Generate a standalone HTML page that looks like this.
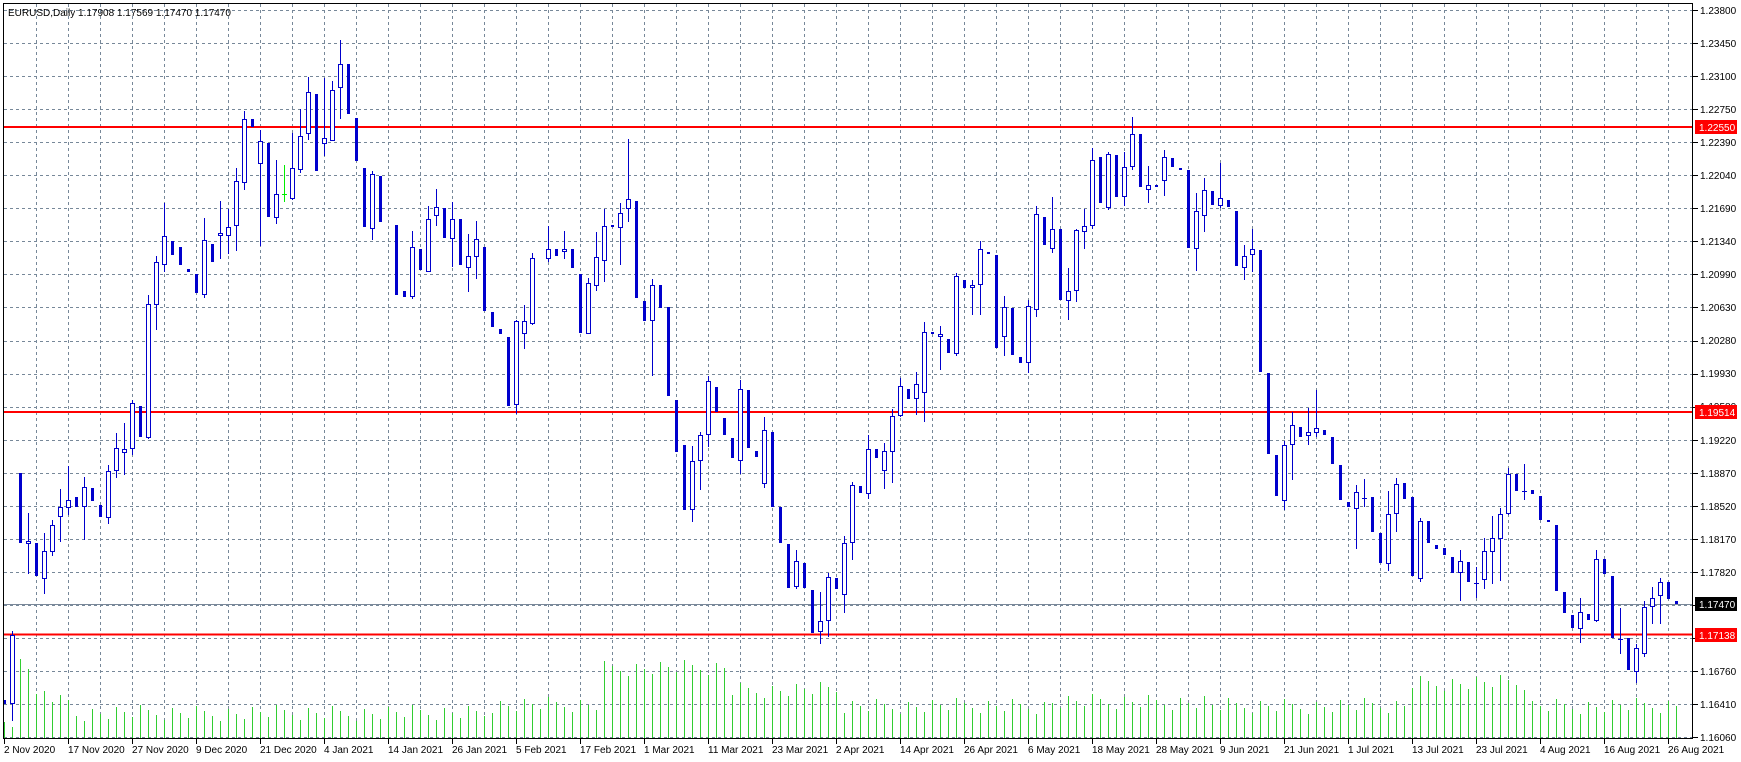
<!DOCTYPE html>
<html><head><meta charset="utf-8">
<style>
html,body{margin:0;padding:0;background:#fff;}
svg{display:block;}
text{font-family:"Liberation Sans","DejaVu Sans",sans-serif;font-size:10px;}
</style></head>
<body>
<svg id="c" width="1741" height="762" xmlns="http://www.w3.org/2000/svg">
<rect x="0" y="0" width="1741" height="762" fill="#fff"/>
<g id="grid"></g>
<g id="vol"></g>
<line x1="3" y1="604.5" x2="1693" y2="604.5" stroke="#7a8899" stroke-width="1"/>
<line x1="3" y1="127" x2="1693" y2="127" stroke="#ff0000" stroke-width="2"/>
<line x1="3" y1="412" x2="1693" y2="412" stroke="#ff0000" stroke-width="2"/>
<line x1="3" y1="634.5" x2="1693" y2="634.5" stroke="#ff0000" stroke-width="2"/>
<g id="candles"></g>
<rect x="3.5" y="3.5" width="1689" height="735" fill="none" stroke="#000" stroke-width="1"/>
<g id="ticks"></g>
<text x="8" y="16" fill="#000">EURUSD,Daily  1.17908 1.17569 1.17470 1.17470</text>
<g fill="#000">
<text x="1700" y="14">1.23800</text>
<text x="1700" y="47">1.23450</text>
<text x="1700" y="80">1.23100</text>
<text x="1700" y="113">1.22750</text>
<text x="1700" y="146">1.22390</text>
<text x="1700" y="179">1.22040</text>
<text x="1700" y="212">1.21690</text>
<text x="1700" y="245">1.21340</text>
<text x="1700" y="278">1.20990</text>
<text x="1700" y="311">1.20630</text>
<text x="1700" y="344">1.20280</text>
<text x="1700" y="377">1.19930</text>
<text x="1700" y="410">1.19580</text>
<text x="1700" y="444">1.19220</text>
<text x="1700" y="477">1.18870</text>
<text x="1700" y="510">1.18520</text>
<text x="1700" y="543">1.18170</text>
<text x="1700" y="576">1.17820</text>
<text x="1700" y="675">1.16760</text>
<text x="1700" y="708">1.16410</text>
<text x="1700" y="741">1.16060</text>
</g>
<rect x="1695" y="120" width="42" height="14" fill="#ff0000"/>
<text x="1699" y="131" fill="#fff">1.22550</text>
<rect x="1695" y="405" width="42" height="14" fill="#ff0000"/>
<text x="1699" y="416" fill="#fff">1.19514</text>
<rect x="1695" y="597" width="42" height="14" fill="#000"/>
<text x="1699" y="608" fill="#fff">1.17470</text>
<rect x="1695" y="628" width="42" height="14" fill="#ff0000"/>
<text x="1699" y="639" fill="#fff">1.17138</text>
<g fill="#000">
<text x="4" y="753">2 Nov 2020</text>
<text x="68" y="753">17 Nov 2020</text>
<text x="132" y="753">27 Nov 2020</text>
<text x="196" y="753">9 Dec 2020</text>
<text x="260" y="753">21 Dec 2020</text>
<text x="324" y="753">4 Jan 2021</text>
<text x="388" y="753">14 Jan 2021</text>
<text x="452" y="753">26 Jan 2021</text>
<text x="516" y="753">5 Feb 2021</text>
<text x="580" y="753">17 Feb 2021</text>
<text x="644" y="753">1 Mar 2021</text>
<text x="708" y="753">11 Mar 2021</text>
<text x="772" y="753">23 Mar 2021</text>
<text x="836" y="753">2 Apr 2021</text>
<text x="900" y="753">14 Apr 2021</text>
<text x="964" y="753">26 Apr 2021</text>
<text x="1028" y="753">6 May 2021</text>
<text x="1092" y="753">18 May 2021</text>
<text x="1156" y="753">28 May 2021</text>
<text x="1220" y="753">9 Jun 2021</text>
<text x="1284" y="753">21 Jun 2021</text>
<text x="1348" y="753">1 Jul 2021</text>
<text x="1412" y="753">13 Jul 2021</text>
<text x="1476" y="753">23 Jul 2021</text>
<text x="1540" y="753">4 Aug 2021</text>
<text x="1604" y="753">16 Aug 2021</text>
<text x="1668" y="753">26 Aug 2021</text>
</g>
</svg>
<script>
(function(){
var NS="http://www.w3.org/2000/svg";
function el(p,t,a){var e=document.createElementNS(NS,t);for(var k in a)e.setAttribute(k,a[k]);p.appendChild(e);return e;}
var g=document.getElementById("grid"),tk=document.getElementById("ticks");
for(var k=0;k<=22;k++){var y=Math.round(10+33.05*k)+0.5;
 el(g,"line",{x1:4,y1:y,x2:1693,y2:y,stroke:"#778899","stroke-dasharray":"3,3","stroke-width":1});
 el(tk,"line",{x1:1693,y1:y,x2:1698,y2:y,stroke:"#000"});}
for(var x=36;x<1693;x+=32){el(g,"line",{x1:x+0.5,y1:4,x2:x+0.5,y2:738,stroke:"#778899","stroke-dasharray":"3,3","stroke-width":1});}
for(var x=4;x<1693;x+=64){el(tk,"line",{x1:x+0.5,y1:739,x2:x+0.5,y2:744,stroke:"#000"});}
var D="D 700 704|U 635 704 631 721|D 473 543|U 541 544 513 574|D 543 576|U 551 579 533 594|U 525 552 520 556|U 507 517 489 542|U 500 508 466 515|D 497 507|U 487 507 477 540|D 488 501|D 505 517|U 471 518 465 524|U 448 471 433 478|U 449 453 423 475|U 403 449 400 455|D 406 437|U 304 438 295 439|U 262 305 256 330|U 236 265 203 272|D 241 255|D 247 265|D 269 272|D 274 293|U 240 295 218 298|D 244 262|U 233 236 201 259|U 227 236 209 254|U 181 226 168 251|U 119 183 111 190|D 119 127|U 141 164 130 246|D 143 217|U 194 218 160 224|G 194 165 202|U 168 199 133 200|U 136 170 109 173|U 92 134 77 140|D 94 171|U 138 144 78 156|U 90 141 81 141|U 64 88 40 119|D 64 114|D 118 161|D 168 227|U 174 229 171 240|D 176 222|N|D 225 295|D 291 297|U 247 297 231 299|D 249 270|U 219 272 206 272|U 207 216 189 226|D 208 238|U 219 239 202 267|D 219 265|U 256 268 234 292|U 239 257 221 279|D 247 311|D 312 327|D 329 334|D 337 406|U 321 405 320 414|U 321 334 305 349|U 258 324 253 325|N|U 249 259 226 262|D 249 256|U 249 252 231 259|D 249 268|D 274 333|U 283 334 278 334|U 257 286 232 291|U 226 261 209 282|X 226|U 213 228 203 265|U 199 209 139 222|D 201 298|D 301 321|U 285 321 279 376|D 285 308|D 307 396|D 400 452|D 445 510|U 461 510 446 522|U 435 461 432 490|U 381 435 376 447|D 387 412|D 418 435|D 438 458|U 389 461 380 474|D 390 448|D 451 457|U 430 484 417 488|D 432 507|D 507 543|D 544 588|U 561 587 550 589|D 563 588|D 590 633|U 621 632 592 644|U 577 621 573 637|D 578 589|U 543 595 536 613|U 485 543 482 560|D 486 493|U 449 494 435 499|D 449 458|U 451 471 443 489|U 416 452 409 483|U 386 416 378 417|D 389 399|U 384 399 372 415|U 332 393 322 422|X 333|U 334 337 326 370|D 339 353|U 276 354 273 356|D 280 288|U 285 288 280 315|U 249 285 241 315|X 253|D 255 348|U 307 337 296 356|D 308 355|D 357 363|U 306 363 300 373|U 214 310 206 317|D 217 245|U 229 249 197 253|D 229 300|U 291 301 268 320|U 230 291 229 302|U 226 232 209 249|U 160 226 148 229|D 157 203|U 154 208 152 210|D 155 197|U 167 197 152 206|U 134 167 117 170|D 134 187|U 185 190 166 203|X 186|U 157 181 150 196|D 158 167|X 169|D 170 248|U 211 249 193 271|U 190 216 178 232|D 191 205|U 198 206 163 208|D 200 207|D 211 266|U 256 268 245 280|U 249 255 229 272|D 250 372|D 373 454|D 455 496|U 445 501 441 510|U 425 445 412 480|D 427 437|U 432 436 408 445|U 428 433 390 437|D 430 435|D 437 464|D 465 500|D 502 507|U 492 509 485 549|C 498 479 507|D 497 532|D 533 563|U 514 564 491 571|U 484 514 478 532|D 483 499|D 497 576|U 521 579 518 582|D 521 543|D 545 549|D 548 555|D 557 573|U 561 573 550 601|D 562 582|C 583 567 598|U 551 580 538 589|U 538 552 516 584|U 514 539 508 581|U 474 514 468 515|D 474 491|C 491 464 500|D 490 494|D 496 520|X 521|D 525 591|D 592 613|D 615 628|U 612 629 598 643|D 614 620|U 559 621 550 622|D 559 574|D 576 638|C 639 608 654|D 638 670|U 648 672 644 683|U 607 654 601 657|U 598 607 587 624|U 582 596 578 624|D 582 599|D 601 604".split("|");
var cg=document.getElementById("candles"),vg=document.getElementById("vol");
var B="#0000cc";
function volTop(i){
 var early=[722,727,659,669,694,691,702,695,700];
 if(i<early.length)return early[i];
 var base;
 if(i<61)base=713;else if(i<75)base=705;else if(i<91)base=668;else if(i<105)base=690;else if(i<131)base=706;else if(i<151)base=702;else if(i<176)base=706;else if(i<191)base=683;else base=706;
 var r=((i*73)%17)-8;
 return base+r;
}
for(var i=0;i<D.length;i++){
 var c=4+8*i,cx=c+0.5,p=D[i].split(" "),t=p[0];
 el(vg,"line",{x1:cx,y1:volTop(i),x2:cx,y2:738,stroke:"#32cd32","stroke-width":1});
 if(t=="N")continue;
 var a=p.slice(1).map(Number);
 if(t=="D"){el(cg,"rect",{x:c-1,y:a[0],width:3,height:Math.max(2,a[1]-a[0]),fill:B});}
 else if(t=="X"){el(cg,"rect",{x:c-1,y:a[0]-1,width:3,height:2,fill:B});}
 else if(t=="U"){
  el(cg,"line",{x1:cx,y1:a[2],x2:cx,y2:a[0],stroke:B});
  el(cg,"line",{x1:cx,y1:a[1],x2:cx,y2:a[3],stroke:B});
  el(cg,"rect",{x:c-1.5,y:a[0]+0.5,width:4,height:Math.max(1,a[1]-a[0]-1),fill:"#fff",stroke:B,"stroke-width":1});
 } else if(t=="C"||t=="G"){
  var col=t=="G"?"#00ee00":B;
  el(cg,"line",{x1:cx,y1:a[1],x2:cx,y2:a[2],stroke:col});
  el(cg,"line",{x1:c-2,y1:a[0]+0.5,x2:c+3,y2:a[0]+0.5,stroke:col});
 }
}
})();
</script>
</body></html>
